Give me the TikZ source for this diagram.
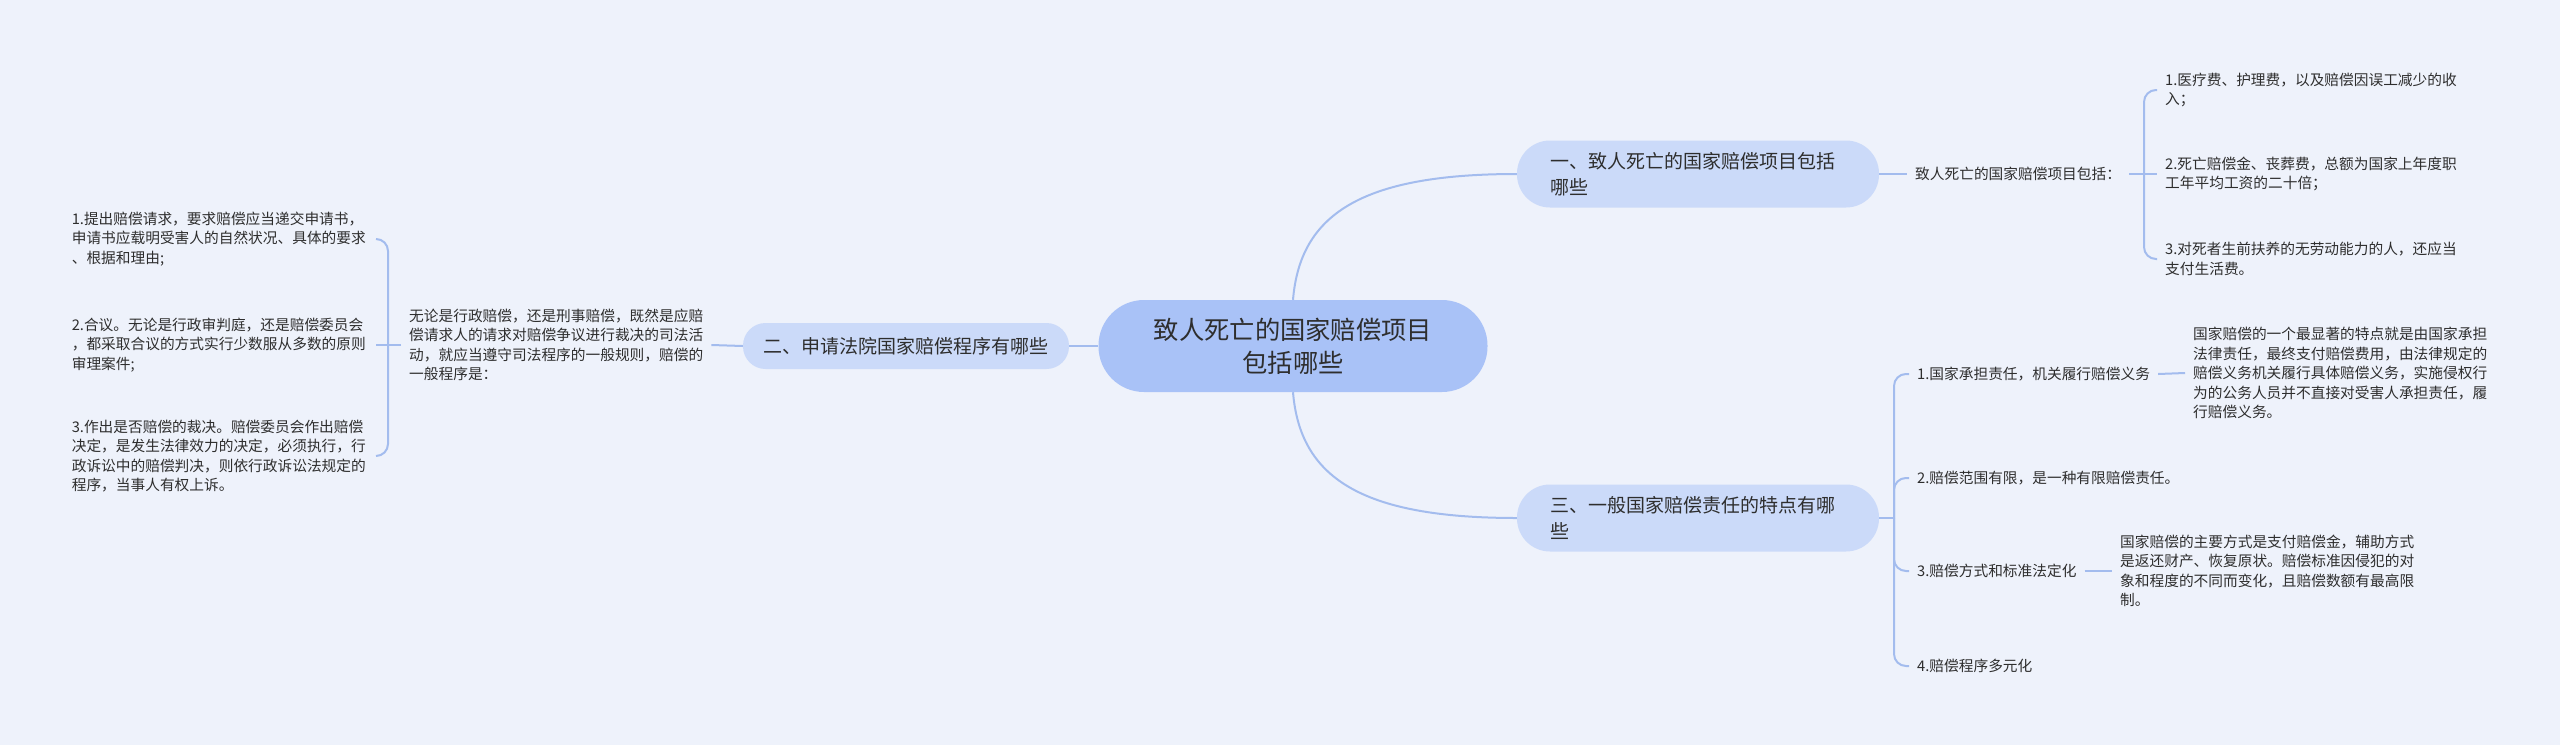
\documentclass[tikz,border=0pt]{standalone}
\usepackage{fontspec}
\newfontfamily\cjk{Noto Sans CJK SC}
\definecolor{bgc}{HTML}{EEF2FB}
\definecolor{rootc}{HTML}{A9C2F7}
\definecolor{brc}{HTML}{CBDAF9}
\definecolor{linec}{HTML}{A3BCEE}
\definecolor{txtc}{HTML}{2E2E2E}
\begin{document}
\begin{tikzpicture}[x=1pt,y=-1pt,
 conn/.style={draw=linec, line width=2pt},
 rootnode/.style={fill=rootc, rounded corners=45.5pt, minimum width=389pt, minimum height=92pt, align=center, font=\cjk\fontsize{25.3}{33}\selectfont, text=txtc, inner sep=0pt},
 branchnode/.style={fill=brc, rounded corners=33pt, minimum width=362pt, minimum height=67pt, text width=296pt, align=left, font=\cjk\fontsize{19}{26}\selectfont, text=txtc, inner sep=0pt},
 branchone/.style={fill=brc, rounded corners=22.5pt, minimum width=326pt, minimum height=46pt, align=center, font=\cjk\fontsize{19}{26}\selectfont, text=txtc, inner sep=0pt},
 leaf/.style={font=\cjk\fontsize{14.7}{19.5}\selectfont, text=txtc, inner xsep=8pt, inner ysep=2pt, align=left},
 leafw/.style={leaf, text width=296pt}
]
\useasboundingbox (0,0) rectangle (2560,745);
\fill[bgc] (0,0) rectangle (2560,745);

% main nodes
\node[rootnode] (c) at (1293,346) {致人死亡的国家赔偿项目\\包括哪些};
\node[branchnode] (b1) at (1698,174) {一、致人死亡的国家赔偿项目包括\\哪些};
\node[branchone] (b2) at (906,346) {二、申请法院国家赔偿程序有哪些};
\node[branchnode] (b3) at (1698,518) {三、一般国家赔偿责任的特点有哪\\些};

% left side (branch 2)
\node[leaf, anchor=west] (t2) at (401,345) {无论是行政赔偿，还是刑事赔偿，既然是应赔\\偿请求人的请求对赔偿争议进行裁决的司法活\\动，就应当遵守司法程序的一般规则，赔偿的\\一般程序是：};
\coordinate (jL) at (388,345);
\node[leafw, anchor=east] (L1) at (376,239) {1.提出赔偿请求，要求赔偿应当递交申请书，\\申请书应载明受害人的自然状况、具体的要求\\、根据和理由;};
\node[leafw, anchor=east] (L2) at (376,345) {2.合议。无论是行政审判庭，还是赔偿委员会\\，都采取合议的方式实行少数服从多数的原则\\审理案件;};
\node[leafw, anchor=east] (L3) at (376,456) {3.作出是否赔偿的裁决。赔偿委员会作出赔偿\\决定，是发生法律效力的决定，必须执行，行\\政诉讼中的赔偿判决，则依行政诉讼法规定的\\程序，当事人有权上诉。};

% right side (branch 1)
\node[leaf, anchor=west] (r1) at (1907,174) {致人死亡的国家赔偿项目包括：};
\coordinate (j1) at (2144,174);
\node[leafw, anchor=west] (R1) at (2157,90) {1.医疗费、护理费，以及赔偿因误工减少的收\\入；};
\node[leafw, anchor=west] (R2) at (2157,174) {2.死亡赔偿金、丧葬费，总额为国家上年度职\\工年平均工资的二十倍；};
\node[leafw, anchor=west] (R3) at (2157,259) {3.对死者生前扶养的无劳动能力的人，还应当\\支付生活费。};

% right side (branch 3)
\coordinate (j3) at (1894,518);
\node[leaf, anchor=west] (s1) at (1909,374) {1.国家承担责任，机关履行赔偿义务};
\node[leaf, anchor=west] (s2) at (1909,478) {2.赔偿范围有限，是一种有限赔偿责任。};
\node[leaf, anchor=west] (s3) at (1909,571) {3.赔偿方式和标准法定化};
\node[leaf, anchor=west] (s4) at (1909,666) {4.赔偿程序多元化};
\node[leafw, anchor=west] (d1) at (2185,373) {国家赔偿的一个最显著的特点就是由国家承担\\法律责任，最终支付赔偿费用，由法律规定的\\赔偿义务机关履行具体赔偿义务，实施侵权行\\为的公务人员并不直接对受害人承担责任，履\\行赔偿义务。};
\node[leafw, anchor=west] (d3) at (2112,571) {国家赔偿的主要方式是支付赔偿金，辅助方式\\是返还财产、恢复原状。赔偿标准因侵犯的对\\象和程度的不同而变化，且赔偿数额有最高限\\制。};

% connectors
\draw[conn] (c.north) .. controls (1300,215) and (1360,174) .. (b1.west);
\draw[conn] (c.south) .. controls (1300,477) and (1360,518) .. (b3.west);
\draw[conn] (c.west) -- (b2.east);

\draw[conn] (b2.west) -- (t2.east);
\draw[conn] (t2.west) -- (jL);
\draw[conn, rounded corners=12pt] (jL) |- (L1.east);
\draw[conn] (jL) -- (L2.east);
\draw[conn, rounded corners=12pt] (jL) |- (L3.east);

\draw[conn] (b1.east) -- (r1.west);
\draw[conn] (r1.east) -- (j1);
\draw[conn, rounded corners=12pt] (j1) |- (R1.west);
\draw[conn] (j1) -- (R2.west);
\draw[conn, rounded corners=12pt] (j1) |- (R3.west);

\draw[conn] (b3.east) -- (j3);
\draw[conn, rounded corners=12pt] (j3) |- (s1.west);
\draw[conn, rounded corners=12pt] (j3) |- (s2.west);
\draw[conn, rounded corners=12pt] (j3) |- (s3.west);
\draw[conn, rounded corners=12pt] (j3) |- (s4.west);
\draw[conn] (s1.east) -- (d1.west);
\draw[conn] (s3.east) -- (d3.west);
\end{tikzpicture}
\end{document}
